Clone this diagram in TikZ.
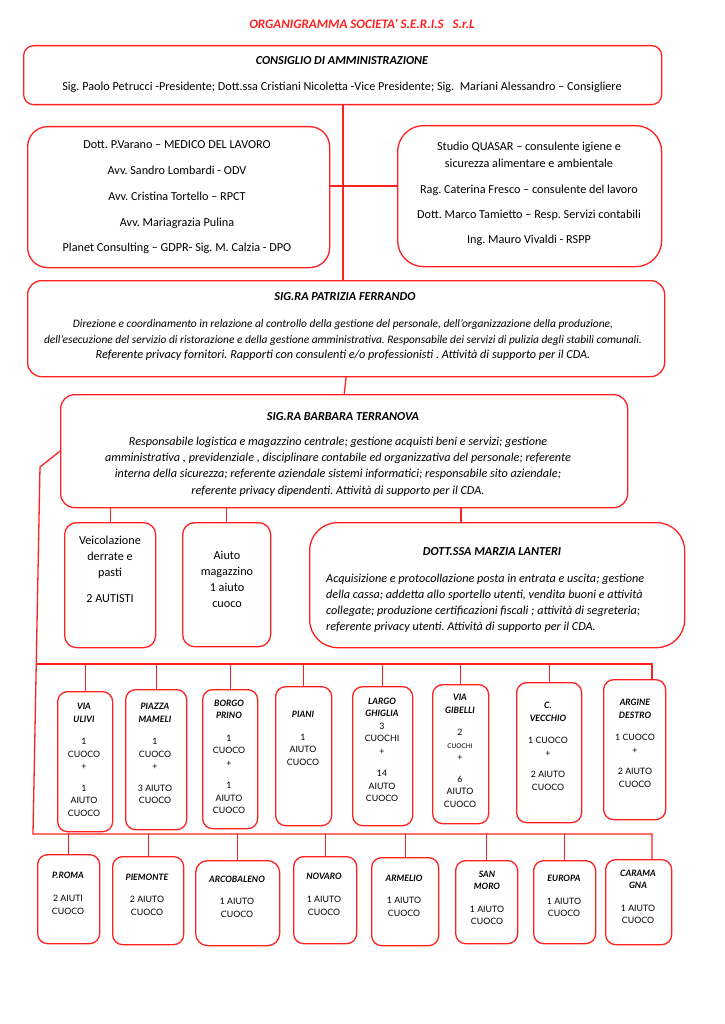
\documentclass[tikz,border=0pt]{standalone}
\usepackage{fontspec}
\setmainfont{Carlito}
\newfontfamily\latofont{Lato}
\usetikzlibrary{positioning}
\definecolor{orgred}{HTML}{FF2020}
\newcommand{\sede}[1]{\textbf{\textit{#1}}}
\frenchspacing

\begin{document}
\begin{tikzpicture}[x=1pt, y=-1pt,
  box/.style={draw=orgred, line width=1.3pt, fill=white, rounded corners=#1, anchor=north west, inner sep=0pt},
  box/.default=10pt,
  link/.style={draw=orgred, line width=1.3pt},
  main/.style={align=center, inner sep=0pt, font=\fontsize{12.2}{16}\selectfont},
  head/.style={align=center, inner sep=0pt, font=\bfseries\itshape\fontsize{12.2}{14}\selectfont},
  body/.style={align=center, inner sep=0pt, font=\itshape\fontsize{12.2}{16.3}\selectfont},
  sedetxt/.style={align=center, inner sep=0pt, font=\latofont\fontsize{8.8}{12.5}\selectfont}]
  \useasboundingbox[fill=white] (0,0) rectangle (724,1024);

  % Titolo
  \node[head, text=orgred, font=\bfseries\itshape\fontsize{13}{15}\selectfont] (titolo) at (362,24) {ORGANIGRAMMA SOCIETA’ S.E.R.I.S\ \ \ S.r.L};

  % Consiglio di amministrazione
  \node[box, minimum width=638pt, minimum height=59pt] (cda) at (23,45) {};
  \node[head] (cda-t) at (342,61) {CONSIGLIO DI AMMINISTRAZIONE};
  \node[main] (cda-m) at (342,87) {Sig. Paolo Petrucci -Presidente; Dott.ssa Cristiani Nicoletta -Vice Presidente; Sig.\ \ Mariani Alessandro – Consigliere};

  % Consulenti
  \node[box=20pt, minimum width=302pt, minimum height=141pt] (consulenti) at (27,126) {};
  \node[main, font=\fontsize{12.2}{25.75}\selectfont] (consulenti-t) at (177,197.5) {Dott. P.Varano – MEDICO DEL LAVORO\\Avv. Sandro Lombardi - ODV\\Avv. Cristina Tortello – RPCT\\Avv. Mariagrazia Pulina\\Planet Consulting – GDPR- Sig. M. Calzia - DPO};
  \node[box=26pt, minimum width=264pt, minimum height=141pt] (studio) at (397,125) {};
  \node[main, font=\fontsize{12.2}{17}\selectfont] (studio-t) at (529,194) {Studio QUASAR – consulente igiene e\\sicurezza alimentare e ambientale\\[9pt]Rag. Caterina Fresco – consulente del lavoro\\[8pt]Dott. Marco Tamietto – Resp. Servizi contabili\\[8pt]Ing. Mauro Vivaldi - RSPP};

  % Direzione
  \node[box=14pt, minimum width=637pt, minimum height=96pt] (ferrando) at (27,280) {};
  \node[head] (ferrando-t) at (345,297) {SIG.RA PATRIZIA FERRANDO};
  \node[body, font=\itshape\fontsize{12.2}{15.5}\selectfont] (ferrando-m) at (343,340.5) {{\fontsize{11.4}{15.5}\selectfont Direzione e coordinamento in relazione al controllo della gestione del personale, dell’organizzazione della produzione,}\\{\fontsize{11.4}{15.5}\selectfont dell’esecuzione del servizio di ristorazione e della gestione amministrativa. Responsabile dei servizi di pulizia degli stabili comunali.}\\Referente privacy fornitori. Rapporti con consulenti e/o professionisti . Attività di supporto per il CDA.};

  \node[box=14pt, minimum width=567pt, minimum height=113pt] (terranova) at (60,394) {};
  \node[head] (terranova-t) at (343,417) {SIG.RA BARBARA TERRANOVA};
  \node[body] (terranova-m) at (338,466.5) {Responsabile logistica e magazzino centrale; gestione acquisti beni e servizi; gestione\\amministrativa , previdenziale , disciplinare contabile ed organizzativa del personale; referente\\interna della sicurezza; referente aziendale sistemi informatici; responsabile sito aziendale;\\referente privacy dipendenti. Attività di supporto per il CDA.};

  % Uffici
  \node[box=12pt, minimum width=91pt, minimum height=125pt] (autisti) at (64,522) {};
  \node[main] (autisti-t) at (110,569) {Veicolazione\\derrate e\\pasti\\[10pt]2 AUTISTI};
  \node[box=12pt, minimum width=88pt, minimum height=124pt] (magazzino) at (182,522) {};
  \node[main] (magazzino-t) at (227,579) {Aiuto\\magazzino\\1 aiuto\\cuoco};
  \node[box=28pt, minimum width=375pt, minimum height=125pt] (lanteri) at (309,522) {};
  \node[head] (lanteri-t) at (492,552) {DOTT.SSA MARZIA LANTERI};
  \node[body, align=left, anchor=west, font=\itshape\fontsize{12.2}{16}\selectfont] (lanteri-m) at (326,603) {Acquisizione e protocollazione posta in entrata e uscita; gestione\\della cassa; addetta allo sportello utenti, vendita buoni e attività\\collegate; produzione certificazioni fiscali ; attività di segreteria;\\referente privacy utenti. Attività di supporto per il CDA.};

  % Sedi - prima fila
  \node[box, minimum width=55pt, minimum height=140pt] (ulivi) at (57,691) {};
  \node[box, minimum width=61pt, minimum height=140pt] (mameli) at (125,689) {};
  \node[box, minimum width=55pt, minimum height=139pt] (prino) at (202,689) {};
  \node[box, minimum width=56pt, minimum height=139pt] (piani) at (275,686) {};
  \node[box, minimum width=60pt, minimum height=139pt] (ghiglia) at (352,686) {};
  \node[box, minimum width=56pt, minimum height=139pt] (gibelli) at (432,684) {};
  \node[box, minimum width=65pt, minimum height=140pt] (vecchio) at (516,682) {};
  \node[box, minimum width=62pt, minimum height=140pt] (argine) at (603,679) {};
  \node[sedetxt] (ulivi-t) at (84,760) {\sede{VIA}\\\sede{ULIVI}\\[10pt]1\\CUOCO\\+\\[9pt]1\\AIUTO\\CUOCO};
  \node[sedetxt] (mameli-t) at (155,753.5) {\sede{PIAZZA}\\\sede{MAMELI}\\[10pt]1\\CUOCO\\+\\[9pt]3 AIUTO\\CUOCO};
  \node[sedetxt] (prino-t) at (229,757) {\sede{BORGO}\\\sede{PRINO}\\[10pt]1\\CUOCO\\+\\[10pt]1\\AIUTO\\CUOCO};
  \node[sedetxt] (piani-t) at (303,738.5) {\sede{PIANI}\\[10pt]1\\AIUTO\\CUOCO};
  \node[sedetxt] (ghiglia-t) at (382,750) {\sede{LARGO}\\\sede{GHIGLIA}\\3\\CUOCHI\\+\\[10pt]14\\AIUTO\\CUOCO};
  \node[sedetxt] (gibelli-t) at (460,751) {\sede{VIA}\\\sede{GIBELLI}\\[10pt]2\\{\fontsize{6.5}{8}\selectfont CUOCHI}\\+\\[9pt]6\\AIUTO\\CUOCO};
  \node[sedetxt] (vecchio-t) at (548,746.5) {\sede{C.}\\\sede{VECCHIO}\\[10pt]1 CUOCO\\+\\[9pt]2 AIUTO\\CUOCO};
  \node[sedetxt] (argine-t) at (635,743.5) {\sede{ARGINE}\\\sede{DESTRO}\\[10pt]1 CUOCO\\+\\[9pt]2 AIUTO\\CUOCO};

  % Sedi - seconda fila
  \node[box, minimum width=62pt, minimum height=89pt] (proma) at (37,854) {};
  \node[box, minimum width=71pt, minimum height=88pt] (piemonte) at (112,856) {};
  \node[box=12pt, minimum width=84pt, minimum height=85pt] (arcobaleno) at (195,860) {};
  \node[box, minimum width=63pt, minimum height=87pt] (novaro) at (293,856) {};
  \node[box, minimum width=67pt, minimum height=88pt] (armelio) at (371,857) {};
  \node[box, minimum width=62pt, minimum height=83pt] (sanmoro) at (455,860) {};
  \node[box, minimum width=62pt, minimum height=83pt] (europa) at (533,860) {};
  \node[box, minimum width=66pt, minimum height=85pt] (caramagna) at (605,859) {};
  \node[sedetxt] (proma-t) at (68,893) {\sede{P.ROMA}\\[11pt]2 AIUTI\\CUOCO};
  \node[sedetxt] (piemonte-t) at (147,894.5) {\sede{PIEMONTE}\\[10pt]2 AIUTO\\CUOCO};
  \node[sedetxt] (arcobaleno-t) at (237,896.5) {\sede{ARCOBALENO}\\[10pt]1 AIUTO\\CUOCO};
  \node[sedetxt] (novaro-t) at (324,894) {\sede{NOVARO}\\[11pt]1 AIUTO\\CUOCO};
  \node[sedetxt] (armelio-t) at (404,895.5) {\sede{ARMELIO}\\[10pt]1 AIUTO\\CUOCO};
  \node[sedetxt] (sanmoro-t) at (487,898) {\sede{SAN}\\\sede{MORO}\\[10pt]1 AIUTO\\CUOCO};
  \node[sedetxt] (europa-t) at (564,896) {\sede{EUROPA}\\[10pt]1 AIUTO\\CUOCO};
  \node[sedetxt] (caramagna-t) at (638,897) {\sede{CARAMA}\\\sede{GNA}\\[10pt]1 AIUTO\\CUOCO};

  % Collegamenti
  \coordinate (hub) at (343,186);
  \coordinate (ltap) at (461,0);
  \coordinate (bus1) at (36,664);
  \coordinate (bus1e) at (652,664);
  \coordinate (bus2) at (33,834);
  \coordinate (bus2e) at (652,834);
  \draw[link] (cda.south -| hub) -- (ferrando.north -| hub);
  \draw[link] (consulenti.east |- hub) -- (studio.west |- hub);
  \draw[link] (ferrando.south) -- (terranova.north);
  \draw[link] (terranova.south -| autisti.north) -- (autisti.north);
  \draw[link] (terranova.south -| magazzino.north) -- (magazzino.north);
  \draw[link] (terranova.south -| ltap) -- (lanteri.north -| ltap);
  \draw[link] (terranova.west) -- (40,467) -- (bus2) -- (bus2e) -- (bus2e |- caramagna.north);
  \draw[link] (bus1) -- (bus1e) -- (bus1e |- argine.north);
  \foreach \s in {ulivi,mameli,prino,piani,ghiglia,gibelli,vecchio}
    \draw[link] (bus1 -| \s.north) -- (\s.north);
  \foreach \s in {proma,piemonte,arcobaleno,novaro,armelio,sanmoro,europa}
    \draw[link] (bus2 -| \s.north) -- (\s.north);
\end{tikzpicture}
\end{document}
